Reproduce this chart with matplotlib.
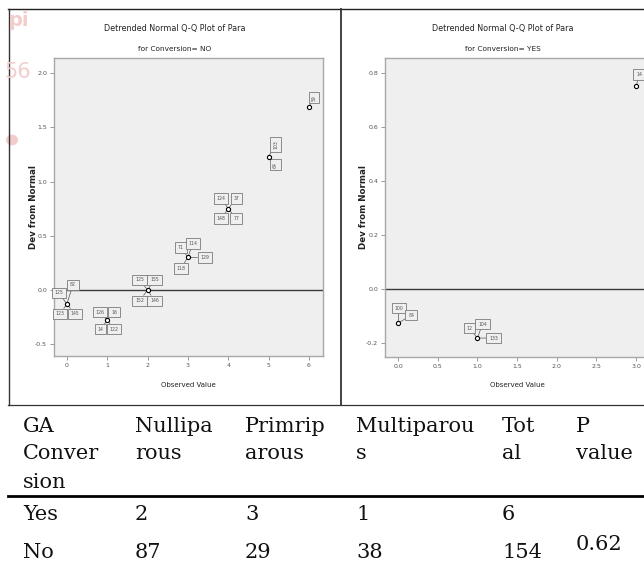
import matplotlib.pyplot as plt
from matplotlib.lines import Line2D
from matplotlib.patches import Circle

W, H = 644, 581

# Detrended Q-Q, Conversion = NO
no_observed = [0, 1, 2, 3, 4, 5, 6]
no_dev = [-0.13, -0.28, 0.0, 0.30, 0.75, 1.23, 1.69]
no_cases = [["125", "82", "123", "145"], ["126", "16", "14", "122"],
            ["125", "155", "152", "146"], ["71", "114", "129", "118"],
            ["124", "37", "148", "77"], ["103", "64"], ["59"]]
no_yticks = [-0.5, 0.0, 0.5, 1.0, 1.5, 2.0]
no_xticks = [0, 1, 2, 3, 4, 5, 6]

# Detrended Q-Q, Conversion = YES
yes_observed = [0, 1, 3]
yes_dev = [-0.125, -0.18, 0.75]
yes_cases = [["100", "84"], ["12", "104", "133"], ["14"]]
yes_yticks = [-0.2, 0.0, 0.2, 0.4, 0.6, 0.8]
yes_xticks = [0.0, 0.5, 1.0, 1.5, 2.0, 2.5, 3.0]

# table
col_heads = [["GA", "Conver", "sion"], ["Nullipa", "rous"], ["Primrip", "arous"],
             ["Multiparou", "s"], ["Tot", "al"], ["P", "value"]]
row_yes = ["Yes", "2", "3", "1", "6"]
row_no = ["No", "87", "29", "38", "154"]
p_value = "0.62"

# label box offsets in pixels (dx, dy, rotation)
no_offsets = [[(-8, 11, 0), (6, 19, 0), (-7, -10, 0), (8, -10, 0)],
              [(-7, 8, 0), (7, 8, 0), (-7, -9, 0), (7, -9, 0)],
              [(-8, 10, 0), (7, 10, 0), (-8, -11, 0), (7, -11, 0)],
              [(-7, 10, 0), (5, 14, 0), (17, 0, 0), (-7, -11, 0)],
              [(-7, 10, 0), (8, 10, 0), (-7, -10, 0), (8, -10, 0)],
              [(7, 12, 90), (7, -8, 90)],
              [(5, 9, 90)]]
yes_offsets = [[(1, 15, 0), (13, 8, 0)],
               [(-8, 10, 0), (5, 14, 0), (16, 0, 0)],
               [(3, 12, 0)]]

narrow = ["Liberation Sans Narrow", "DejaVu Sans"]
bg = "#efefef"


def px_axes(fig, x0, y0, x1, y1):
    return fig.add_axes([x0 / W, 1 - y1 / H, (x1 - x0) / W, (y1 - y0) / H])


def qq_panel(ax, observed, dev, cases, offsets, xticks, yticks, xlim, ylim, xfmt, yfmt):
    ax.set_facecolor(bg)
    ax.set_xlim(*xlim)
    ax.set_ylim(*ylim)
    ax.axhline(0, color="#3a3a3a", lw=1.0, zorder=1)
    for x, y, labs, offs in zip(observed, dev, cases, offsets):
        for lab, (dx, dy, rot) in zip(labs, offs):
            ax.annotate(lab, (x, y), xytext=(dx, dy), textcoords="offset pixels",
                        ha="center", va="center", rotation=rot, fontsize=3.3,
                        family=narrow, color="#555555",
                        bbox=dict(boxstyle="square,pad=0.6", fc=bg, ec="#7a7a7a", lw=0.6),
                        arrowprops=dict(arrowstyle="-", color="#555555", lw=0.5,
                                        shrinkA=0, shrinkB=0), zorder=3)
    ax.plot(observed, dev, "o", ms=3, mfc="white", mec="black", mew=0.8, zorder=4)
    ax.set_xticks(xticks)
    ax.set_yticks(yticks)
    ax.set_xticklabels([xfmt.format(v) for v in xticks])
    ax.set_yticklabels([yfmt.format(v) for v in yticks])
    ax.tick_params(length=3, width=0.6, color="#888888", labelsize=4.5,
                   labelcolor="#555555", pad=2)
    for lab in ax.get_xticklabels() + ax.get_yticklabels():
        lab.set_family(narrow)
    for s in ax.spines.values():
        s.set_color("#a8a8a8")
        s.set_linewidth(1.0)


fig = plt.figure(figsize=(W / 100, H / 100), dpi=100)

# faint watermark in the left margin
wm = "#f3cccc"
fig.text(8 / W, 1 - 21 / H, "pi", ha="left", va="center", fontsize=14,
         fontweight="bold", color=wm)
fig.text(4 / W, 1 - 72 / H, "56", ha="left", va="center", fontsize=15, color=wm)
fig.add_artist(Circle((12 / W, 1 - 140 / H), 6 / W, transform=fig.transFigure,
                      color=wm, lw=0))

ax1 = px_axes(fig, 54, 58, 323, 356)
qq_panel(ax1, no_observed, no_dev, no_cases, no_offsets, no_xticks, no_yticks,
         (-0.32, 6.35), (-0.61, 2.14), "{:.0f}", "{:.1f}")
ax2 = px_axes(fig, 385, 58, 652, 357)
qq_panel(ax2, yes_observed, yes_dev, yes_cases, yes_offsets, yes_xticks, yes_yticks,
         (-0.165, 3.2), (-0.25, 0.855), "{:.1f}", "{:.1f}")

# panel texts
for cx, sub in [(175, "for Conversion= NO"), (503, "for Conversion= YES")]:
    fig.text(cx / W, 1 - 29 / H, "Detrended Normal Q-Q Plot of Para", ha="center",
             va="center", fontsize=5.8, family=narrow, color="#222222")
    fig.text(cx / W, 1 - 49 / H, sub, ha="center", va="center", fontsize=5.3,
             family=narrow, color="#222222")
for lx, cx in [(33, 188), (364, 517)]:
    fig.text(lx / W, 1 - 207 / H, "Dev from Normal", rotation=90, ha="center",
             va="center", fontsize=6.3, fontweight="bold", color="#222222")
    fig.text(cx / W, 1 - 385 / H, "Observed Value", ha="center", va="center",
             fontsize=5, family=narrow, color="#222222")


# panel frames
def hline(y, x0, x1, lw, color):
    fig.add_artist(Line2D([x0 / W, x1 / W], [1 - y / H, 1 - y / H], lw=lw, color=color))


def vline(x, y0, y1, lw, color):
    fig.add_artist(Line2D([x / W, x / W], [1 - y0 / H, 1 - y1 / H], lw=lw, color=color))


hline(9, 8, 644, 1.0, "#222222")
hline(405, 8, 644, 0.9, "#333333")
vline(8.5, 9, 405, 1.0, "#333333")
vline(341, 9, 405, 1.3, "#333333")

# table
serif = "DejaVu Serif"
col_x = [23, 135, 245, 356, 502, 576]
head_base = [432, 459, 488]
for x, lines in zip(col_x, col_heads):
    for y, t in zip(head_base, lines):
        fig.text(x / W, 1 - y / H, t, ha="left", va="baseline", fontsize=15,
                 family=serif, color="#111111")
hline(496, 8, 644, 2.0, "#000000")
for base, row in [(520, row_yes), (558, row_no)]:
    for x, t in zip(col_x, row):
        fig.text(x / W, 1 - base / H, t, ha="left", va="baseline", fontsize=15,
                 family=serif, color="#111111")
fig.text(col_x[5] / W, 1 - 550 / H, p_value, ha="left", va="baseline", fontsize=15,
         family=serif, color="#111111")

fig.savefig("out.png", dpi=100)
